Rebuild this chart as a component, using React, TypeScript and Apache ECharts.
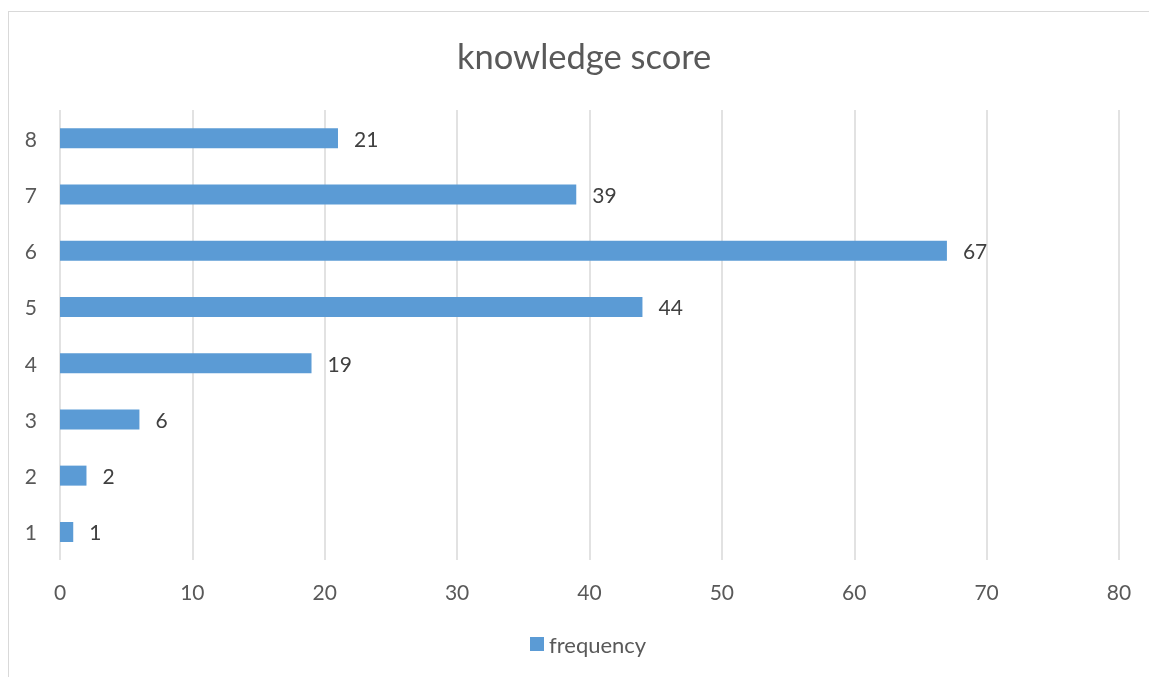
import React, { useEffect, useRef } from "react";
import * as echarts from "echarts";

// Knowledge score distribution
const scores = ["1", "2", "3", "4", "5", "6", "7", "8"];
const frequency = [1, 2, 6, 19, 44, 67, 39, 21];
const seriesName = "frequency";
const chartTitle = "knowledge score";

const FONT = "Lato, 'Open Sans', sans-serif";

export default function App() {
  const ref = useRef<HTMLDivElement>(null);

  useEffect(() => {
    if (!ref.current) return;
    const chart = echarts.init(ref.current, null, { renderer: "svg" });
    chart.setOption({
      animation: false,
      textStyle: { fontFamily: FONT },
      title: {
        text: chartTitle,
        left: 444,
        top: 25,
        textStyle: {
          fontFamily: FONT,
          fontSize: 34.5,
          fontWeight: "normal",
          color: "#595959",
        },
      },
      legend: {
        bottom: 9,
        left: 517,
        itemWidth: 14,
        itemHeight: 14,
        icon: "rect",
        textStyle: { fontFamily: FONT, fontSize: 22, color: "#595959" },
        data: [seriesName],
      },
      grid: { left: 52, top: 102, right: 30, bottom: 109, containLabel: false },
      xAxis: {
        type: "value",
        min: 0,
        max: 80,
        interval: 10,
        axisLine: { show: false },
        axisTick: { show: false },
        splitLine: { show: true, lineStyle: { color: "#d9d9d9", width: 1.5 } },
        axisLabel: { fontFamily: FONT, fontSize: 21, color: "#595959", margin: 21 },
      },
      yAxis: {
        type: "category",
        data: scores,
        axisLine: { show: false },
        axisTick: { show: false },
        axisLabel: { fontFamily: FONT, fontSize: 21, color: "#595959", margin: 23 },
      },
      series: [
        {
          name: seriesName,
          type: "bar",
          data: frequency,
          barWidth: 20,
          itemStyle: { color: "#5b9bd5" },
          label: {
            show: true,
            position: "right",
            distance: 16,
            fontFamily: FONT,
            fontSize: 21,
            color: "#404040",
          },
        },
      ],
    });
    return () => chart.dispose();
  }, []);

  return (
    <div style={{ position: "relative", width: 1141, height: 661, background: "#ffffff" }}>
      {/* chart frame: only its top and left edges fall inside the window */}
      <div
        style={{
          position: "fixed",
          left: 8,
          top: 11,
          right: -4,
          bottom: -4,
          borderLeft: "1.5px solid #d9d9d9",
          borderTop: "1.5px solid #d9d9d9",
          pointerEvents: "none",
        }}
      />
      <div ref={ref} style={{ position: "absolute", left: 0, top: 0, width: 1141, height: 661 }} />
    </div>
  );
}
